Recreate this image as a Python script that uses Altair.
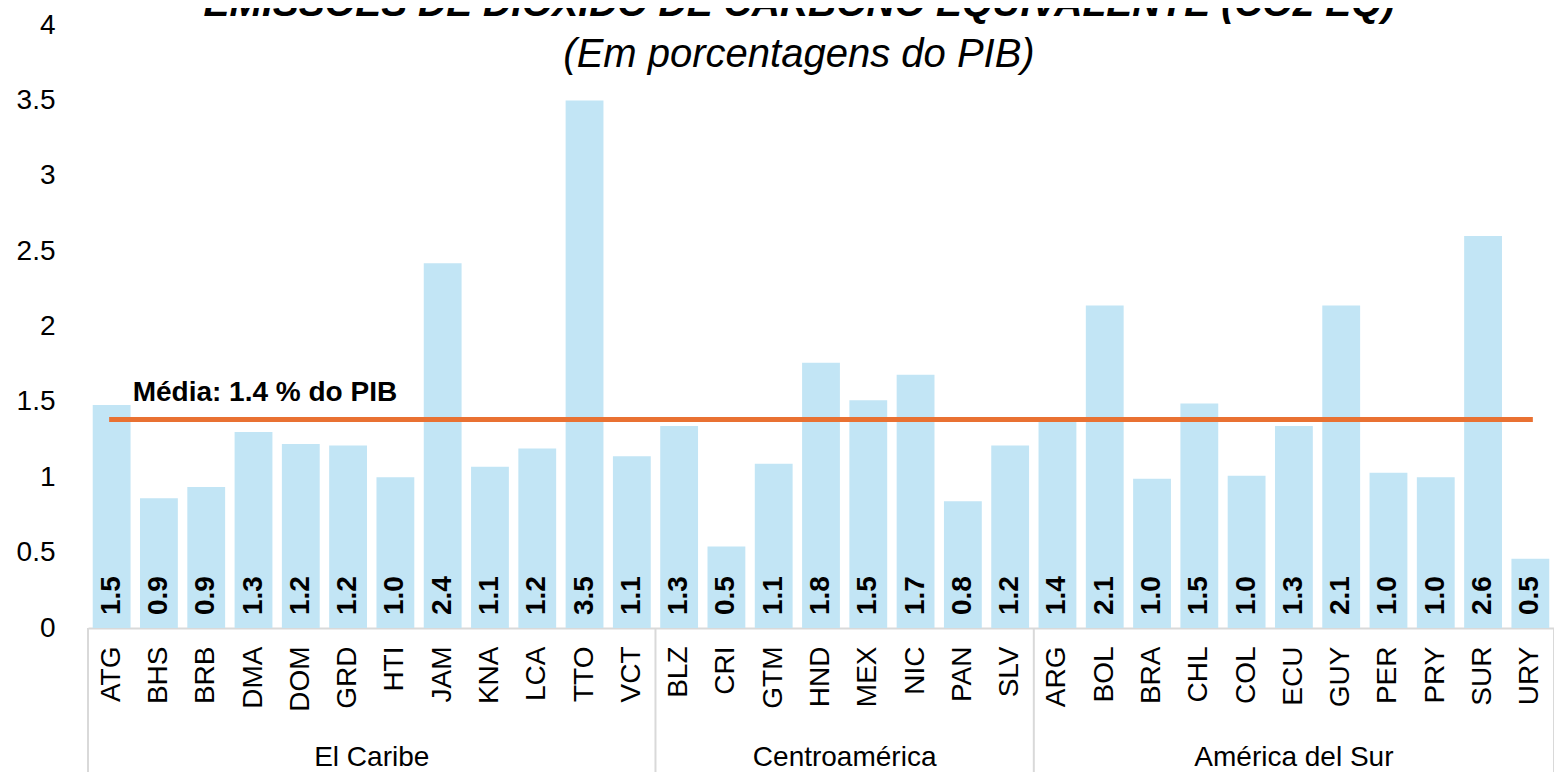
import altair as alt
import pandas as pd
import numpy as np

groups = ["El Caribe", "Centroamérica", "América del Sur"]
caribe = ["ATG", "BHS", "BRB", "DMA", "DOM", "GRD", "HTI", "JAM", "KNA", "LCA", "TTO", "VCT"]
caribe_vals = [1.48, 0.86, 0.935, 1.30, 1.22, 1.21, 1.00, 2.42, 1.07, 1.19, 3.50, 1.14]
centro = ["BLZ", "CRI", "GTM", "HND", "MEX", "NIC", "PAN", "SLV"]
centro_vals = [1.34, 0.54, 1.09, 1.76, 1.51, 1.68, 0.84, 1.21]
sur = ["ARG", "BOL", "BRA", "CHL", "COL", "ECU", "GUY", "PER", "PRY", "SUR", "URY"]
sur_vals = [1.38, 2.14, 0.99, 1.49, 1.01, 1.34, 2.14, 1.03, 1.00, 2.60, 0.46]

mean_label = "Média: 1.4 % do PIB"
title_text = "EMISSÕES DE DIÓXIDO DE CARBONO EQUIVALENTE (CO2 EQ)"
subtitle_text = "(Em porcentagens do PIB)"

countries = caribe + centro + sur
values = caribe_vals + centro_vals + sur_vals
group_of = [groups[0]] * len(caribe) + [groups[1]] * len(centro) + [groups[2]] * len(sur)
mean_val = float(np.mean(values))

df = pd.DataFrame({"pais": countries, "valor": values, "grupo": group_of})

counts = [len(caribe), len(centro), len(sur)]
bounds = np.concatenate([[0], np.cumsum(counts)])
sep_df = pd.DataFrame({"pos": bounds.astype(float)})
grp_df = pd.DataFrame({"grupo": groups, "mid": [(bounds[i] + bounds[i + 1]) / 2 for i in range(3)]})

W = 1466
H = 603
FONT = "Liberation Sans"

xcat = alt.X("pais:N", sort=countries, scale=alt.Scale(paddingInner=0.2, paddingOuter=0.1),
             axis=alt.Axis(title=None, labelAngle=270, labelFontSize=28, labelFont=FONT,
                           labelColor="black", ticks=False, labelPadding=18,
                           domainColor="#D9D9D9", domainWidth=2))
yq = alt.Y("valor:Q", scale=alt.Scale(domain=[0, 4]),
           axis=alt.Axis(title=None, values=[0, 0.5, 1, 1.5, 2, 2.5, 3, 3.5, 4], format="~g",
                         labelFontSize=28, labelFont=FONT, labelColor="black", grid=False,
                         domain=False, ticks=False, labelPadding=33))

base = alt.Chart(df)
xs = alt.X("pais:N", sort=countries)

bars = base.mark_bar(color="#C2E5F5").encode(x=xcat, y=yq)

labels = base.mark_text(angle=270, align="left", baseline="middle", dx=13,
                        fontSize=28, fontWeight="bold", font=FONT, color="black").encode(
    x=xs,
    y=alt.datum(0),
    text=alt.Text("valor:Q", format=".1f"),
)

mean_line = base.mark_line(color="#E97132", strokeWidth=5, strokeCap="square").encode(
    x=xs, y=alt.datum(mean_val),
)
mean_text = base.transform_filter(alt.datum.pais == countries[0]).mark_text(
    align="left", baseline="middle", dx=21, dy=-27,
    fontSize=28, fontWeight="bold", font=FONT, color="black").encode(
    x=xs, y=alt.datum(mean_val), text=alt.value(mean_label)
)

main = alt.layer(bars, labels, mean_line, mean_text)

oxs = alt.Scale(domain=[0, float(bounds[-1])], nice=False, zero=False)
seps = alt.Chart(sep_df).mark_rule(color="#D9D9D9", strokeWidth=2).encode(
    x=alt.X("pos:Q", scale=oxs, axis=None),
    y=alt.value(H), y2=alt.value(H + 170),
)
glabels = alt.Chart(grp_df).mark_text(fontSize=28, font=FONT, color="black", baseline="alphabetic").encode(
    x=alt.X("mid:Q", scale=oxs, axis=None),
    y=alt.value(H + 138),
    text="grupo:N",
)
overlay = alt.layer(seps, glabels)

chart = alt.layer(main, overlay).resolve_scale(x="independent").properties(
    width=W, height=H,
    background="white",
    autosize=alt.AutoSizeParams(type="none"),
    padding={"left": 80, "top": 17, "right": 0, "bottom": 144},
    title=alt.TitleParams(text=title_text, subtitle=subtitle_text, font=FONT, fontSize=39,
                          fontWeight="bold", fontStyle="italic", color="black",
                          subtitleFont=FONT, subtitleFontSize=40, subtitleFontStyle="italic",
                          subtitleColor="black", subtitlePadding=11, anchor="middle",
                          dy=64, dx=-22, offset=0),
).configure_view(stroke=None)

chart.save("out.html", embed_options={"renderer": "svg", "actions": False})
